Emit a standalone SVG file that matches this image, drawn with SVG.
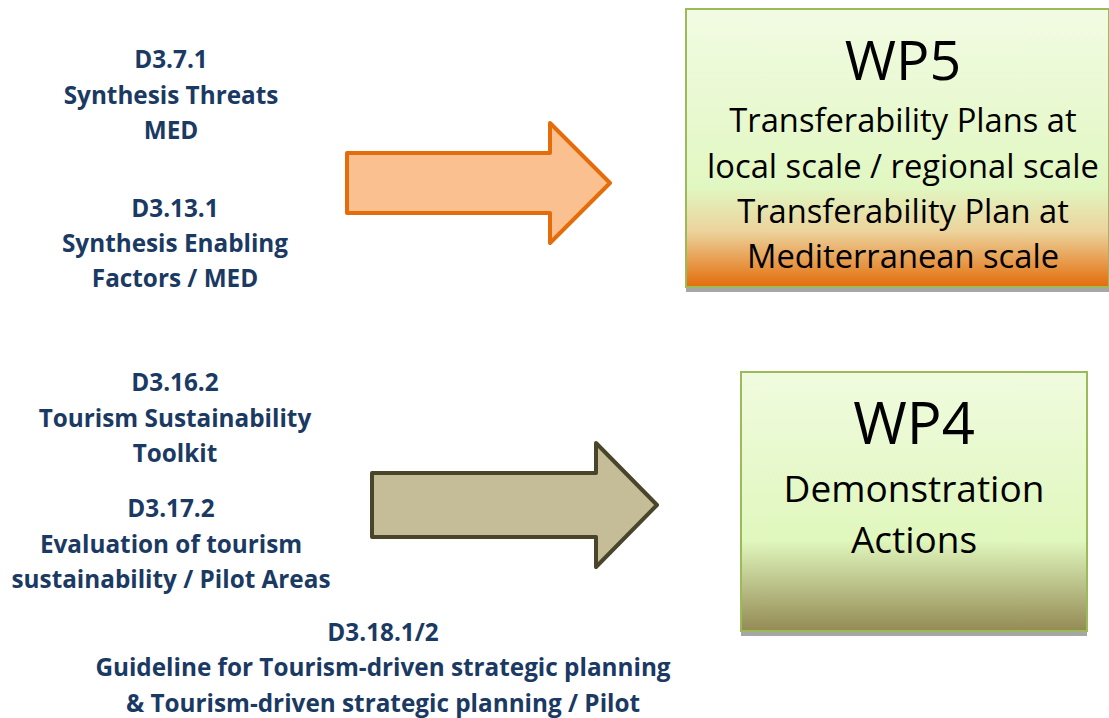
<svg xmlns="http://www.w3.org/2000/svg" width="1109" height="718" viewBox="0 0 1109 718">
<style>
.lbl{font-family:"Open Sans","Noto Sans","Liberation Sans",sans-serif;font-weight:bold;font-size:24.3px;fill:#1b3a63;text-anchor:middle}
.big{font-family:"Open Sans","Noto Sans","Liberation Sans",sans-serif;font-size:55.5px;fill:#000;text-anchor:middle}
.mid{font-family:"Open Sans","Noto Sans","Liberation Sans",sans-serif;font-size:32.7px;fill:#000;text-anchor:middle}
.mid4{font-family:"Open Sans","Noto Sans","Liberation Sans",sans-serif;font-size:37px;fill:#000;text-anchor:middle}
.box{stroke:#9bbb59;stroke-width:2}
.shadow{fill:#a6a6a6}
</style>
<defs>
<linearGradient id="g5" x1="0" y1="0" x2="0" y2="1">
<stop offset="0" stop-color="#f2fbe3"/>
<stop offset="0.64" stop-color="#e1f7c2"/>
<stop offset="0.8" stop-color="#ecd39c"/>
<stop offset="1" stop-color="#e36c0a"/>
</linearGradient>
<linearGradient id="g4" x1="0" y1="0" x2="0" y2="1">
<stop offset="0" stop-color="#f0fbdf"/>
<stop offset="0.65" stop-color="#e0f7bd"/>
<stop offset="1" stop-color="#948a54"/>
</linearGradient>
</defs>
<g id="connectors">
<path id="arrow-top" d="M347,153 L550,153 L550,123 L610,183 L550,243 L550,213 L347,213 Z" fill="#fac08f" stroke="#e46c0a" stroke-width="4" stroke-linejoin="round"/>
<path id="arrow-bottom" d="M372,473 L596,473 L596,443 L657,505 L596,567 L596,537 L372,537 Z" fill="#c4bd97" stroke="#4a452a" stroke-width="4" stroke-linejoin="round"/>
</g>
<g id="wp5">
<rect class="shadow" x="686" y="288" width="423" height="4"/>
<rect class="box" x="686" y="9" width="423" height="278" fill="url(#g5)"/>
<text class="big" x="903" y="80">WP5</text>
<text class="mid" x="903" y="132">Transferability Plans at</text>
<text class="mid" x="903" y="178">local scale / regional scale</text>
<text class="mid" x="903" y="223">Transferability Plan at</text>
<text class="mid" x="903" y="268">Mediterranean scale</text>
</g>
<g id="wp4">
<rect class="shadow" x="741" y="632" width="346" height="4"/>
<rect class="box" x="741" y="372" width="346" height="259" fill="url(#g4)"/>
<text class="big" x="914" y="444" style="font-size:58px">WP4</text>
<text class="mid4" x="914" y="502">Demonstration</text>
<text class="mid4" x="914" y="553">Actions</text>
</g>
<g id="d371">
<text class="lbl" x="171" y="68">D3.7.1</text>
<text class="lbl" x="171" y="104">Synthesis Threats</text>
<text class="lbl" x="171" y="139">MED</text>
</g>
<g id="d3131">
<text class="lbl" x="175" y="217">D3.13.1</text>
<text class="lbl" x="175" y="252">Synthesis Enabling</text>
<text class="lbl" x="175" y="287">Factors / MED</text>
</g>
<g id="d3162">
<text class="lbl" x="175" y="391">D3.16.2</text>
<text class="lbl" x="175" y="427">Tourism Sustainability</text>
<text class="lbl" x="175" y="462">Toolkit</text>
</g>
<g id="d3172">
<text class="lbl" x="171" y="517">D3.17.2</text>
<text class="lbl" x="171" y="553">Evaluation of tourism</text>
<text class="lbl" x="171" y="588">sustainability / Pilot Areas</text>
</g>
<g id="d3181">
<text class="lbl" x="383" y="641">D3.18.1/2</text>
<text class="lbl" x="383" y="676">Guideline for Tourism-driven strategic planning</text>
<text class="lbl" x="383" y="712">&amp; Tourism-driven strategic planning / Pilot</text>
</g>
</svg>
